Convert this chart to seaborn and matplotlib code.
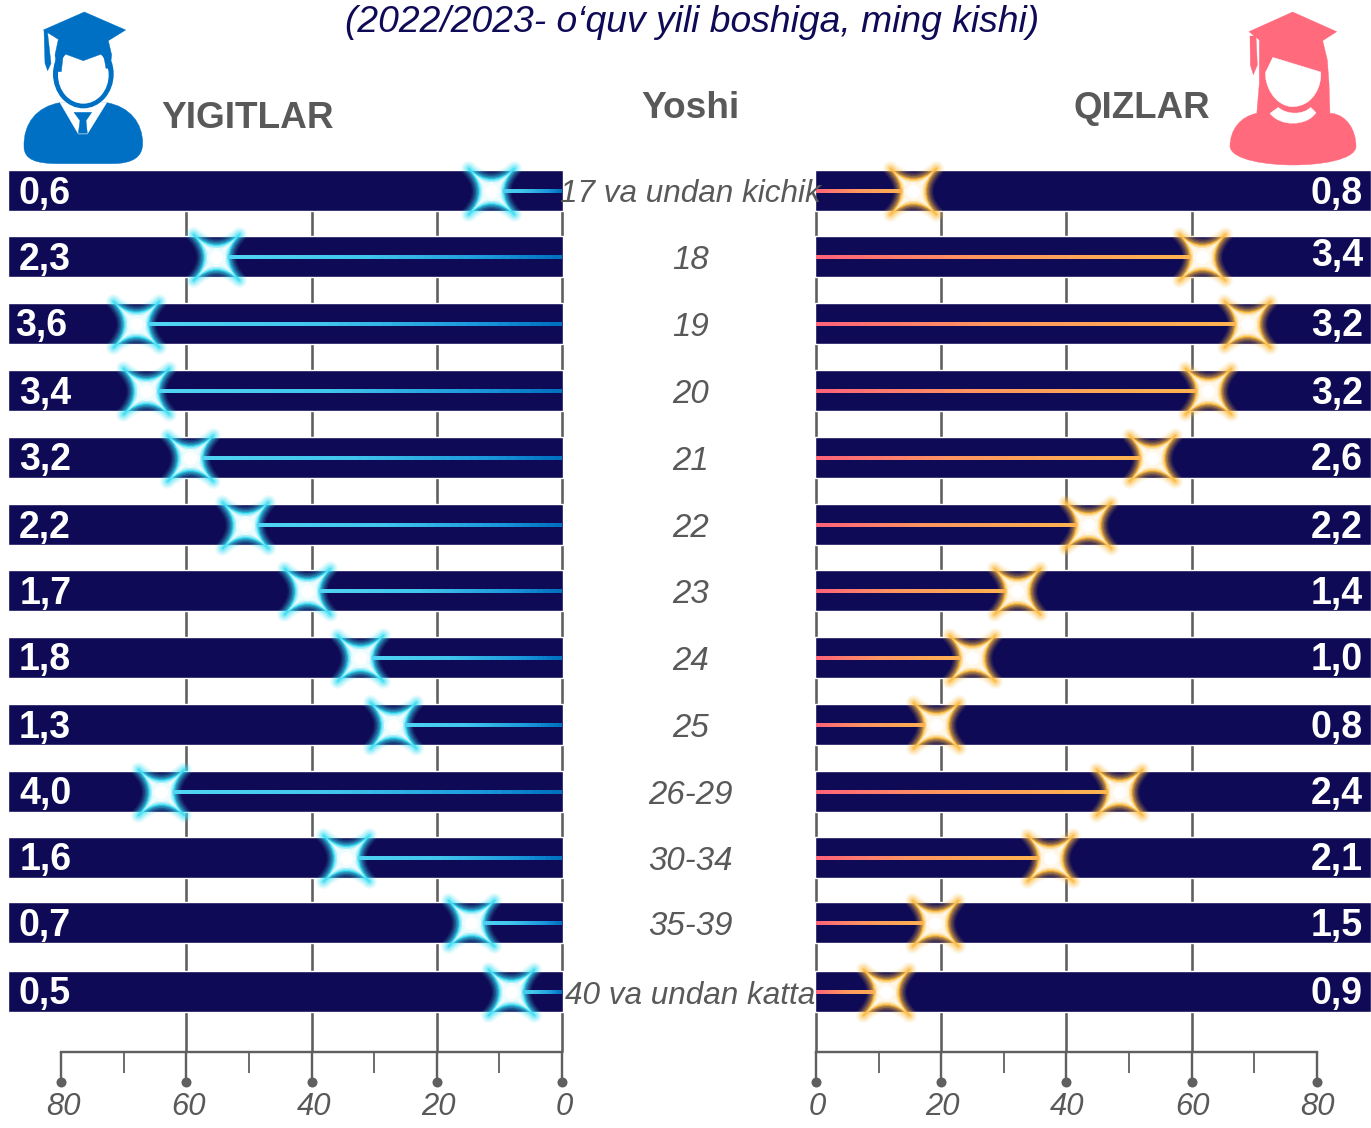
import numpy as np
import pandas as pd
import matplotlib
matplotlib.use("Agg")
import matplotlib.pyplot as plt
import seaborn as sns
from matplotlib.path import Path
from matplotlib.patches import PathPatch, Polygon, Ellipse
from matplotlib.collections import LineCollection
from matplotlib.colors import LinearSegmentedColormap
from matplotlib.transforms import ScaledTranslation

# ---------- data ----------
ages = ["17 va undan kichik", "18", "19", "20", "21", "22", "23", "24", "25",
        "26-29", "30-34", "35-39", "40 va undan katta"]
male_share = [11.3, 55.3, 68.0, 66.5, 59.4, 50.6, 40.7, 32.3, 27.0, 64.0, 34.5, 14.5, 8.1]
female_share = [15.5, 61.7, 68.8, 62.6, 53.7, 43.5, 32.1, 24.9, 19.2, 48.4, 37.4, 19.0, 11.2]
male_labels = ["0,6", "2,3", "3,6", "3,4", "3,2", "2,2", "1,7", "1,8", "1,3", "4,0", "1,6", "0,7", "0,5"]
female_labels = ["0,8", "3,4", "3,2", "3,2", "2,6", "2,2", "1,4", "1,0", "0,8", "2,4", "2,1", "1,5", "0,9"]
major_ticks = [0, 20, 40, 60, 80]
minor_ticks = [10, 30, 50, 70]
title = "(2022/2023- o‘quv yili boshiga, ming kishi)"

# ---------- layout (pixels) ----------
W, H = 1371, 1128
ROW_Y = [190.5, 256.5, 323.5, 390.5, 457.5, 524.5, 590.5, 657.5, 724.5, 791.5, 857.5, 922.5, 991.5]
MALE_LABEL_DX = [0, 0, -4, 0, 0, 0, 1, 0, 0, 0, 1, 0, 0]
FEMALE_LABEL_DY = [0, -3, 0, 0, 0, 0, 0, 0, 0, 0, 0, 0, 0]
BAR_H = 41
PX = 6.26
L0, R0 = 562, 816
px = lambda n: n * 72 / 100

NAVY = "#0f0a55"
GREY = "#5f5f5f"
TXT = "#595959"

sns.set_theme(style="white")
plt.rcParams["font.family"] = ["Liberation Sans", "DejaVu Sans"]

df = pd.DataFrame({"age": ages, "male": male_share, "female": female_share, "row": ROW_Y})

fig = plt.figure(figsize=(W / 100, H / 100), dpi=100, facecolor="white")
ax_l = fig.add_axes([0, 0, 564 / W, 1])
ax_r = fig.add_axes([814 / W, 0, 557 / W, 1])
ax_l.set_xlim(L0 / PX, (L0 - 564) / PX)
ax_r.set_xlim((814 - R0) / PX, (W - R0) / PX)

v = 0.06
STAR = Path(
    [(1, 1), (v, 0), (1, -1), (0, -v), (-1, -1), (-v, 0), (-1, 1), (0, v), (1, 1), (1, 1)],
    [Path.MOVETO, Path.CURVE3, Path.CURVE3, Path.CURVE3, Path.CURVE3, Path.CURVE3, Path.CURVE3,
     Path.CURVE3, Path.CURVE3, Path.CLOSEPOLY],
)
STAR_S = px(46) ** 2


def draw_side(ax, col, bar_left, bar_width, cmap, glow, shades, dx):
    xlim = ax.get_xlim()
    ax.set_ylim(H, 0)
    ax.set_facecolor("none")
    for s in ("left", "right", "top"):
        ax.spines[s].set_visible(False)
    sp = ax.spines["bottom"]
    sp.set_visible(True)
    sp.set_position(("data", 1052))
    sp.set_bounds(0, 80)
    sp.set_color(GREY)
    sp.set_linewidth(px(2.4))
    ax.set_yticks([])
    ax.set_xticks(major_ticks)
    ax.set_xticks(minor_ticks, minor=True)
    ax.tick_params(axis="x", which="major", direction="out", length=px(30), width=px(2.4),
                   color=GREY, pad=px(10), labelsize=px(31), labelcolor=TXT, bottom=True)
    ax.tick_params(axis="x", which="minor", direction="out", length=px(21), width=px(1.8),
                   color=GREY, bottom=True)
    shift = ScaledTranslation(dx / 100, 0, fig.dpi_scale_trans)
    for t in ax.get_xticklabels():
        t.set_fontstyle("italic")
        t.set_transform(t.get_transform() + shift)
    # grid lines behind the bands
    ax.vlines([0, 20, 40, 60], 190, 1052, color=GREY, lw=px(2.6), zorder=1)
    # bands
    ax.barh(np.array(ROW_Y) - 0.2, bar_width, left=bar_left, height=BAR_H, color=NAVY, zorder=2)
    # end dots on the axis
    sns.scatterplot(x=major_ticks, y=[1082] * 5, ax=ax, color=GREY, s=px(10) ** 2, linewidth=0,
                    legend=False, zorder=3, clip_on=False)
    # glowing stars
    for lw, a in [(15, .10), (12, .14), (9, .20), (6, .30), (3, .45)]:
        sns.scatterplot(data=df, x=col, y="row", ax=ax, marker=STAR, s=STAR_S, color=glow,
                        edgecolor=glow, linewidth=px(lw), alpha=a, legend=False, zorder=4)
    sns.scatterplot(data=df, x=col, y="row", ax=ax, marker=STAR, s=STAR_S, color=shades[0],
                    edgecolor=glow, linewidth=px(0.8), legend=False, zorder=5)
    # gradient stems, above the star's rim and below its bright core
    for val, y in zip(df[col], ROW_Y):
        xs = np.linspace(0, val, 41)
        seg = np.stack([np.c_[xs[:-1], [y] * 40], np.c_[xs[1:], [y] * 40]], axis=1)
        lc = LineCollection(seg, cmap=cmap, linewidths=px(4), zorder=6, capstyle="butt")
        lc.set_array(np.linspace(0, 1, 40))
        ax.add_collection(lc)
    for i, (f, c) in enumerate(zip([.8, .6, .42], shades[1:4])):
        sns.scatterplot(data=df, x=col, y="row", ax=ax, marker=STAR, s=STAR_S * f, color=c,
                        linewidth=0, legend=False, zorder=7 + i)
    sns.scatterplot(data=df, x=col, y="row", ax=ax, s=px(19) ** 2, color=shades[3],
                    linewidth=0, legend=False, zorder=10)
    sns.scatterplot(data=df, x=col, y="row", ax=ax, s=px(13) ** 2, color="white",
                    linewidth=0, legend=False, zorder=11)
    ax.set_xlabel("")
    ax.set_ylabel("")
    ax.set_xlim(xlim)
    ax.set_ylim(H, 0)


cm_l = LinearSegmentedColormap.from_list("bl", [(0, "#0070c0"), (.2, "#1c98dc"), (.55, "#3fc4ec"), (1, "#52d6f4")])
cm_r = LinearSegmentedColormap.from_list("or", [(0, "#ff6479"), (.4, "#ff9560"), (1, "#ffb64f")])

draw_side(ax_l, "male", (L0 - 7.6) / PX, -(L0 - 7.6 + 1) / PX, cm_l, "#38e0f6",
          ["#6ee5f7", "#a5effa", "#d0f7fc", "#eefcfe"], 2)
draw_side(ax_r, "female", (815 - R0) / PX, (W - 815) / PX, cm_r, "#fdbb3e",
          ["#fcca68", "#fde0a4", "#fef0cf", "#fff8ea"], 1)

# ---------- overlay: text and icons ----------
ov = fig.add_axes([0, 0, 1, 1], facecolor="none")
ov.set_xlim(0, W)
ov.set_ylim(H, 0)
ov.axis("off")

ov.text(692, 22.5, title, ha="center", va="center", fontsize=px(37.3), style="italic", color=NAVY)
ov.text(690, 109, "Yoshi", ha="center", va="center", fontsize=px(37), weight="bold", color=TXT)
ov.text(161.5, 119, "YIGITLAR", ha="left", va="center", fontsize=px(37), weight="bold", color=TXT)
ov.text(1210, 109, "QIZLAR", ha="right", va="center", fontsize=px(36.6), weight="bold", color=TXT)

for i, (a, y, ml, fl) in enumerate(zip(ages, ROW_Y, male_labels, female_labels)):
    fs = 31.5 if " " in a else 33
    ov.text(690.5, y + 4, a, ha="center", va="center", fontsize=px(fs), style="italic", color=TXT)
    ov.text(19 + MALE_LABEL_DX[i], y + 3, ml, ha="left", va="center", fontsize=px(37.5), weight="bold", color="white")
    ov.text(1363, y + 3 + FEMALE_LABEL_DY[i], fl, ha="right", va="center", fontsize=px(37.5), weight="bold", color="white")


def poly(pts, color, scale=3.0, ox=0.0, oy=0.0, z=2):
    p = np.array(pts, float) / scale + [ox, oy]
    ov.add_patch(Polygon(p, closed=True, fc=color, ec=color, lw=0.3, joinstyle="round", zorder=z))


def curve(codes_pts, color, scale=3.0, ox=0.0, oy=0.0, z=2):
    verts, codes = [], []
    for c, pts in codes_pts:
        for q in pts:
            verts.append((q[0] / scale + ox, q[1] / scale + oy))
            codes.append(c)
    codes[0] = Path.MOVETO
    ov.add_patch(PathPatch(Path(verts, codes), fc=color, ec=color, lw=0.3, zorder=z))


B = "#0070c5"
C4 = Path.CURVE4
L = Path.LINETO
curve([(L, [(180, 308)]),
       (C4, [(110, 320), (70, 370), (72, 440)]),
       (C4, [(72, 480), (110, 490), (170, 491)]),
       (L, [(340, 491)]),
       (C4, [(400, 490), (428, 470), (428, 430)]),
       (C4, [(428, 370), (390, 320), (320, 308)])], B)
poly([(180, 308), (320, 308), (262, 402), (235, 402)], "white", z=3)
poly([(222, 337), (275, 337), (258, 362), (262, 400), (235, 400), (240, 362)], B, z=4)
ov.add_patch(Ellipse((250 / 3, 222 / 3), 182 / 3, 206 / 3, fc=B, ec="none", zorder=3))
ov.add_patch(Ellipse((250 / 3, 225 / 3), 152 / 3, 172 / 3, fc="white", ec="none", zorder=4))
poly([(130, 90), (253, 36), (377, 90), (325, 122), (335, 165), (330, 205), (318, 205), (310, 160),
      (250, 182), (190, 160), (184, 215), (172, 215), (165, 165), (175, 118)], B, z=5)
poly([(132, 92), (142, 92), (144, 110), (153, 190), (143, 212), (135, 190)], B, z=5)

# female icon
P = "#ff6a7d"
fx, fy = 1100, 0
curve([(L, [(470, 340)]),
       (C4, [(420, 350), (390, 390), (390, 440)]),
       (C4, [(395, 480), (500, 495), (580, 495)]),
       (C4, [(660, 495), (765, 480), (768, 440)]),
       (C4, [(768, 390), (740, 345), (695, 340)])], P, ox=fx, oy=fy)
poly([(447, 95), (578, 36), (710, 95), (668, 122), (682, 180), (687, 250), (690, 345), (470, 345),
      (478, 250), (478, 120)], P, ox=fx, oy=fy, z=3)
poly([(450, 108), (468, 108), (472, 195), (460, 224), (451, 195)], P, ox=fx, oy=fy, z=3)
curve([(L, [(518, 172)]), (L, [(662, 216)]),
       (C4, [(666, 250), (645, 318), (578, 320)]),
       (C4, [(520, 318), (492, 250), (497, 215)])], "white", ox=fx, oy=fy, z=4)
curve([(L, [(510, 340)]), (L, [(535, 322)]),
       (C4, [(560, 345), (610, 345), (632, 322)]),
       (L, [(648, 338)]),
       (C4, [(620, 380), (540, 380), (510, 340)])], "white", ox=fx, oy=fy, z=4)

fig.savefig("out.png", dpi=100, facecolor="white")
